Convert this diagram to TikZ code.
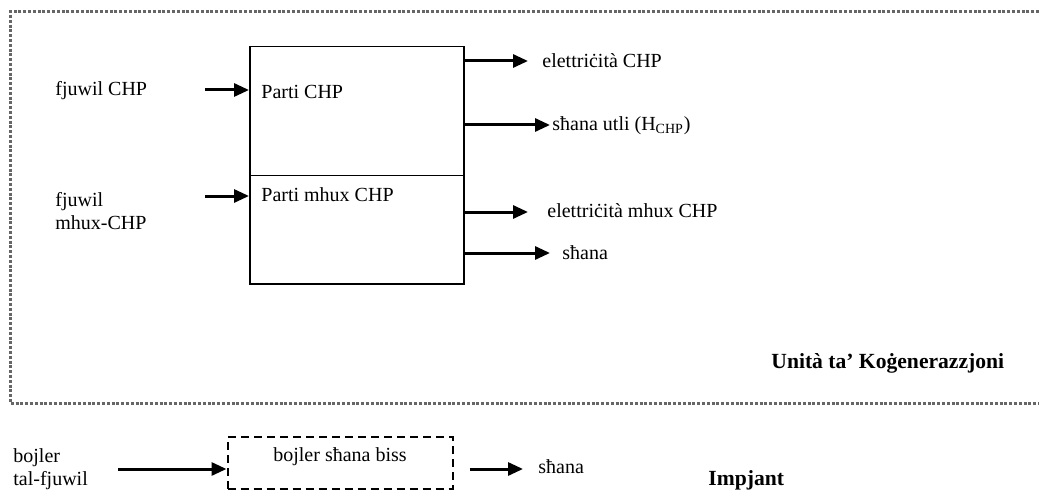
\documentclass[tikz,border=0pt]{standalone}
\usepackage{fontspec}
\setmainfont{Liberation Serif}
\usetikzlibrary{arrows.meta}
\begin{document}
\begin{tikzpicture}[x=0.5pt,y=-0.5pt,
  txt/.style={anchor=west,inner sep=0pt,font=\fontsize{10}{12}\selectfont},
  two/.style={txt,align=left,font=\fontsize{10}{11.8}\selectfont},
  bold/.style={txt,font=\fontsize{10.8}{12}\selectfont\bfseries},
  part/.style={draw,line width=0.75pt,minimum width=107pt,anchor=north west,inner sep=0pt},
  arr/.style={line width=1.5pt,-{Triangle[length=7.5pt,width=6.5pt]}},
  border/.style={line width=1.5pt,black!60,dash pattern=on 1.5pt off 0.9pt},
  dbox/.style={draw,line width=1pt,dash pattern=on 4pt off 2.5pt,minimum width=112.5pt,minimum height=26pt,inner sep=0pt}]
\useasboundingbox (0,0) rectangle (1039,492);
% border of cogeneration unit
\coordinate (bTR) at (1039,12);
\coordinate (bTL) at (10,12);
\coordinate (bBL) at (10,403);
\coordinate (bBR) at (1039,403);
\draw[border] (bTR) -- (bTL) -- (bBL) -- (bBR);
% main box parts
\node[part,minimum height=64.5pt] (chp) at (249,46) {};
\node[part,minimum height=54pt] (nchp) at (249,175) {};
\node[txt] (tchp) at (261,92) {Parti CHP};
\node[txt] (tnchp) at (261,195) {Parti mhux CHP};
% inputs
\node[txt] (fchp) at (55,91) {fjuwil CHP};
\node[two] (fnchp) at (55,211) {fjuwil\\mhux-CHP};
\coordinate (i1) at (205,90);
\coordinate (i2) at (205,196);
\draw[arr] (i1) -- (i1 -| chp.west);
\draw[arr] (i2) -- (i2 -| nchp.west);
% outputs
\coordinate (o1) at (528,61);
\coordinate (o2) at (550,125);
\coordinate (o3) at (528,212);
\coordinate (o4) at (550,253);
\draw[arr] (o1 -| chp.east) -- (o1);
\draw[arr] (o2 -| chp.east) -- (o2);
\draw[arr] (o3 -| nchp.east) -- (o3);
\draw[arr] (o4 -| nchp.east) -- (o4);
\node[txt] (e1) at (542,61) {elettriċità CHP};
\node[txt] (h1) at (552,126) {sħana utli (H\textsubscript{CHP})};
\node[txt] (e2) at (547,211) {elettriċità mhux CHP};
\node[txt] (h2) at (562,253) {sħana};
\node[bold] (unit) at (771,363) {Unità ta’ Koġenerazzjoni};
% boiler
\node[two] (bf) at (13,469) {bojler\\tal-fjuwil};
\node[dbox] (boiler) at (340,463) {};
\node[txt,anchor=center] (tboiler) at (340,457) {bojler sħana biss};
\coordinate (bi) at (118,469);
\draw[arr] (bi) -- (bi -| boiler.west);
\coordinate (bo) at (523,469);
\draw[arr] (bo -| boiler.east) ++(16,0) -- (bo);
\node[txt] (bh) at (538,467) {sħana};
\node[bold] (imp) at (708,480) {Impjant};
\end{tikzpicture}
\end{document}
